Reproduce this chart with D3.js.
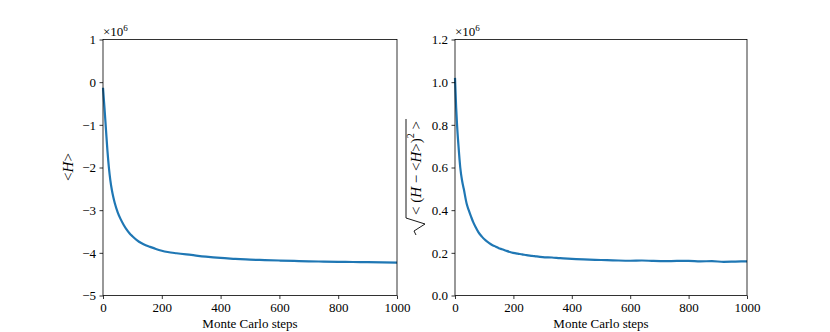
<!DOCTYPE html>
<html>
<head>
<meta charset="utf-8">
<script src="https://cdn.jsdelivr.net/npm/d3@7"></script>
<style>
	body { margin: 0; background: #fff; }
</style>
</head>
<body>
<div id="chart"></div>
<script>
const stepsH = [0, 5, 10, 15, 20, 25, 30, 35, 40, 50, 60, 70, 80, 90, 100, 115, 130, 145, 160, 180, 200, 220, 250, 300, 350, 400, 450, 500, 550, 600, 650, 700, 750, 800, 850, 900, 950, 1000];
// <H> in units of 1e6
const meanH = [-0.13, -0.6, -1.1, -1.6, -2.0, -2.3, -2.52, -2.69, -2.83, -3.05, -3.21, -3.34, -3.45, -3.54, -3.61, -3.7, -3.77, -3.82, -3.86, -3.91, -3.95, -3.98, -4.01, -4.05, -4.09, -4.12, -4.14, -4.16, -4.17, -4.18, -4.19, -4.2, -4.205, -4.21, -4.215, -4.22, -4.225, -4.23];

const stepsS = [0, 4, 7, 12, 18, 24, 30, 40, 47, 55, 62, 70, 80, 92, 105, 115, 127, 140, 150, 161, 175, 188, 199, 215, 230, 245, 264, 280, 300, 332, 360, 400, 440, 480, 520, 560, 600, 640, 680, 720, 760, 800, 840, 880, 920, 960, 1000];
// std of H in units of 1e6
const stdH = [1.02, 0.88, 0.8, 0.7, 0.6, 0.54, 0.5, 0.43, 0.4, 0.37, 0.345, 0.322, 0.297, 0.276, 0.258, 0.248, 0.237, 0.229, 0.222, 0.217, 0.21, 0.204, 0.2, 0.196, 0.193, 0.189, 0.186, 0.183, 0.18, 0.178, 0.175, 0.172, 0.169, 0.167, 0.166, 0.164, 0.163, 0.164, 0.162, 0.161, 0.162, 0.162, 0.16, 0.161, 0.158, 0.159, 0.16];

const xTicks = [0, 200, 400, 600, 800, 1000];
const yTicksLeft = [-5, -4, -3, -2, -1, 0, 1];
const yTicksRight = [0, 0.2, 0.4, 0.6, 0.8, 1.0, 1.2];

const width = 830, height = 332;
const plotTop = 39.5, plotBottom = 295.5;
const lineColor = "#1f77b4";
const serif = "'Liberation Serif', 'DejaVu Serif', serif";

const svg = d3.select("#chart").append("svg")
	.attr("width", width)
	.attr("height", height)
	.style("display", "block");

const minus = (s) => s.replace("-", "\u2212");

function panel({ left, right, steps, values, yDomain, yTicks, yFormat }) {
	const x = d3.scaleLinear().domain([0, 1000]).range([left, right]);
	const y = d3.scaleLinear().domain(yDomain).range([plotBottom, plotTop]);

	//line
	svg.append("path")
		.datum(steps.map((s, i) => [s, values[i]]))
		.attr("fill", "none")
		.attr("stroke", lineColor)
		.attr("stroke-width", 2.2)
		.attr("stroke-linejoin", "round")
		.attr("d", d3.line().x((d) => x(d[0])).y((d) => y(d[1])).curve(d3.curveMonotoneX));

	//axes
	const xAxis = svg.append("g")
		.attr("transform", `translate(0,${plotBottom})`)
		.call(d3.axisBottom(x).tickValues(xTicks).tickSize(3.5).tickPadding(3.5).tickSizeOuter(0).tickFormat(d3.format("d")));
	const yAxis = svg.append("g")
		.attr("transform", `translate(${left},0)`)
		.call(d3.axisLeft(y).tickValues(yTicks).tickSize(3.5).tickPadding(3.5).tickSizeOuter(0).tickFormat((d) => minus(yFormat(d))));
	[xAxis, yAxis].forEach((g) => {
		g.attr("font-family", null).attr("font-size", null);
		g.select(".domain").remove();
		g.selectAll(".tick line").attr("stroke", "#000").attr("stroke-width", 0.8);
		g.selectAll(".tick text")
			.style("font-family", serif)
			.style("font-size", "13px")
			.attr("fill", "#000");
	});

	//frame
	svg.append("rect")
		.attr("x", left).attr("y", plotTop)
		.attr("width", right - left).attr("height", plotBottom - plotTop)
		.attr("fill", "none").attr("stroke", "#000").attr("stroke-width", 0.8);

	//offset text
	const off = svg.append("text")
		.attr("x", left).attr("y", plotTop - 4)
		.style("font-family", serif).style("font-size", "13px");
	off.append("tspan").text("\u00d710");
	off.append("tspan").style("font-size", "9px").attr("dy", -5).text("6");

	//x label
	svg.append("text")
		.attr("x", (left + right) / 2).attr("y", 328)
		.attr("text-anchor", "middle")
		.style("font-family", serif).style("font-size", "13px")
		.text("Monte Carlo steps");
}

panel({ left: 103, right: 397, steps: stepsH, values: meanH, yDomain: [-5, 1], yTicks: yTicksLeft, yFormat: d3.format("d") });
panel({ left: 455, right: 747, steps: stepsS, values: stdH, yDomain: [0, 1.2], yTicks: yTicksRight, yFormat: d3.format(".1f") });

//left y label
const lab1 = svg.append("text")
	.attr("transform", "translate(73,167) rotate(-90)")
	.attr("text-anchor", "middle")
	.style("font-family", serif).style("font-size", "15px");
lab1.append("tspan").text("<");
lab1.append("tspan").style("font-style", "italic").text("H");
lab1.append("tspan").text(">");

//right y label with radical
const g2 = svg.append("g").attr("transform", "translate(421,168) rotate(-90)");
const lab2 = g2.append("text")
	.attr("text-anchor", "middle")
	.style("font-family", serif).style("font-size", "15px");
lab2.append("tspan").text("< (");
lab2.append("tspan").style("font-style", "italic").text("H");
lab2.append("tspan").text(" \u2212 <");
lab2.append("tspan").style("font-style", "italic").text("H");
lab2.append("tspan").text(">)");
lab2.append("tspan").style("font-size", "10px").attr("dy", -7).text("2");
lab2.append("tspan").attr("dy", 7).text(" >");
const w = lab2.node().getComputedTextLength();
const x0 = -w / 2, x1 = w / 2;
g2.append("path")
	.attr("fill", "none").attr("stroke", "#000").attr("stroke-width", 0.9)
	.attr("d", `M${x0 - 20},-5 L${x0 - 16},-7 L${x0 - 9},4 L${x0 - 3},-15 L${x1 + 2},-15`);
</script>
</body>
</html>
